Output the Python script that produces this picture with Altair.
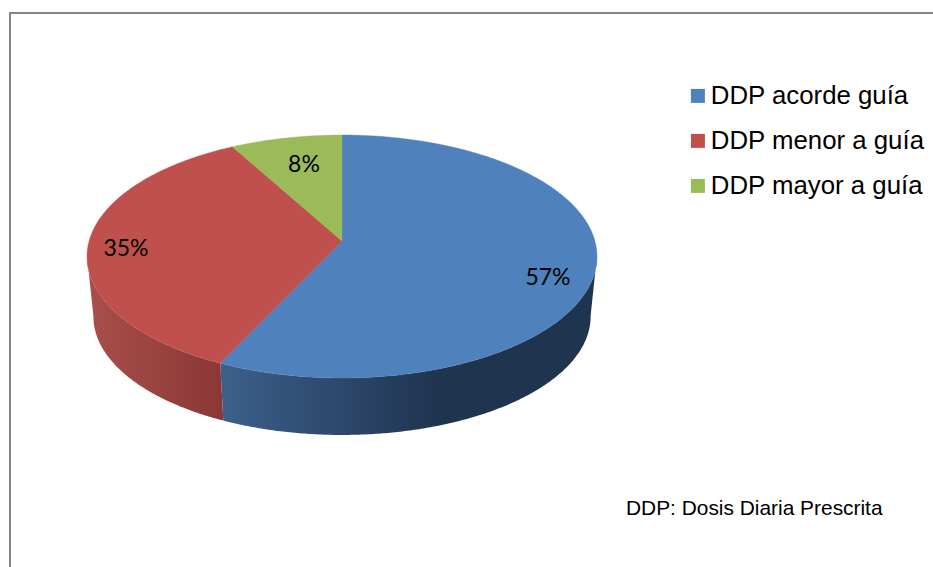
import math
import altair as alt

# Pie data
categories = ["DDP acorde guía", "DDP menor a guía", "DDP mayor a guía"]
percent = [57, 35, 8]
colors = ["#4f81bd", "#c0504d", "#9bbb59"]

FOOTNOTE = "DDP: Dosis Diaria Prescrita"
PAGE_W, PAGE_H = 933, 567

# Tilted disc: perspective view of a unit circle, in page pixels
CX, APEX_Y = 342.0, 241.0
RX, RY, TILT = 252.9, 119.5, 0.1276
DEPTH, SHRINK = 60.4, 0.975


def disc_point(deg, lower=False):
    t = math.radians(deg)
    u, v = math.sin(t), -math.cos(t)
    w = 1 - TILT * v
    s = SHRINK if lower else 1.0
    y0 = APEX_Y + DEPTH if lower else APEX_Y
    return [CX + s * RX * u / w, y0 + s * RY * v / w]


def arc(a0, a1, lower=False):
    n = max(2, int(abs(a1 - a0) * 2))
    return [disc_point(a0 + (a1 - a0) * i / n, lower) for i in range(n + 1)]


def polygon(ring, **props):
    return {"type": "Feature", "properties": props,
            "geometry": {"type": "Polygon", "coordinates": [ring + [ring[0]]]}}


# Slice boundaries, clockwise from twelve o'clock
edges = [0.0]
for p in percent:
    edges.append(edges[-1] + p * 3.6)

top_faces = []
for name, a0, a1 in zip(categories, edges[:-1], edges[1:]):
    ring = [[CX, APEX_Y]] + arc(a0, a1)
    top_faces.append(polygon(ring, name=name))

# Visible side wall spans the front of the disc
RIGHT_TANGENT, LEFT_TANGENT = 97.0, 263.0
split = edges[1]
blue_wall = polygon(arc(RIGHT_TANGENT, split) + arc(split, RIGHT_TANGENT, True), name="blue")
red_wall = polygon(arc(split, LEFT_TANGENT) + arc(LEFT_TANGENT, split, True), name="red")

frame_line = {"type": "Feature", "properties": {"name": "frame"},
              "geometry": {"type": "LineString",
                           "coordinates": [[10, PAGE_H], [10, 13], [PAGE_W, 13]]}}

pixels = dict(type="identity", scale=1, translate=[0, 0])


def gradient(stops):
    return alt.LinearGradient(
        gradient="linear", x1=0, x2=1, y1=0, y2=0,
        stops=[alt.GradientStop(offset=o, color=c) for o, c in stops],
    )


blue_side = alt.Chart(alt.Data(values=[blue_wall])).mark_geoshape(
    fill=gradient([(0, "#3d608c"), (0.58, "#1f344f"), (1, "#1f344f")])
).project(**pixels)

red_side = alt.Chart(alt.Data(values=[red_wall])).mark_geoshape(
    fill=gradient([(0, "#a94f4b"), (1, "#8a3735")])
).project(**pixels)

faces = alt.Chart(alt.Data(values=top_faces)).mark_geoshape(strokeWidth=0.4).encode(
    color=alt.Color(
        "properties.name:N",
        scale=alt.Scale(domain=categories, range=colors),
        sort=categories,
        legend=alt.Legend(
            title=None, orient="none", legendX=685, legendY=83,
            symbolType="square", symbolSize=196, symbolStrokeWidth=0,
            labelFont="Liberation Sans", labelFontSize=25.8, labelColor="#000000",
            labelOffset=0, rowPadding=18, labelLimit=300,
        ),
    ),
    stroke=alt.Color("properties.name:N", scale=alt.Scale(domain=categories, range=colors), legend=None),
).project(**pixels)

# Percent labels, placed by hand on each slice
label_lon = [548, 126, 304]
label_lat = [278, 249, 165]
labels = alt.Chart(alt.Data(values=[
    {"lon": x, "lat": y, "text": f"{p}%"} for x, y, p in zip(label_lon, label_lat, percent)
])).mark_text(font="Lato", fontSize=23, color="#000000", align="center", baseline="middle").encode(
    longitude="lon:Q", latitude="lat:Q", text="text:N"
).project(**pixels)

note = alt.Chart(alt.Data(values=[{"lon": 626, "lat": 515, "text": FOOTNOTE}])).mark_text(
    font="Liberation Sans", fontSize=20.9, color="#000000", align="left", baseline="alphabetic"
).encode(longitude="lon:Q", latitude="lat:Q", text="text:N").project(**pixels)

frame = alt.Chart(alt.Data(values=[frame_line])).mark_geoshape(
    filled=False, stroke="#868686", strokeWidth=2
).project(**pixels)

chart = alt.layer(frame, blue_side, red_side, faces, labels, note).properties(
    width=PAGE_W, height=PAGE_H, padding=0, background="#ffffff",
    autosize=alt.AutoSizeParams(type="none"),
).configure_view(stroke=None)

chart.save("out.html", embed_options={"renderer": "svg", "actions": False})
